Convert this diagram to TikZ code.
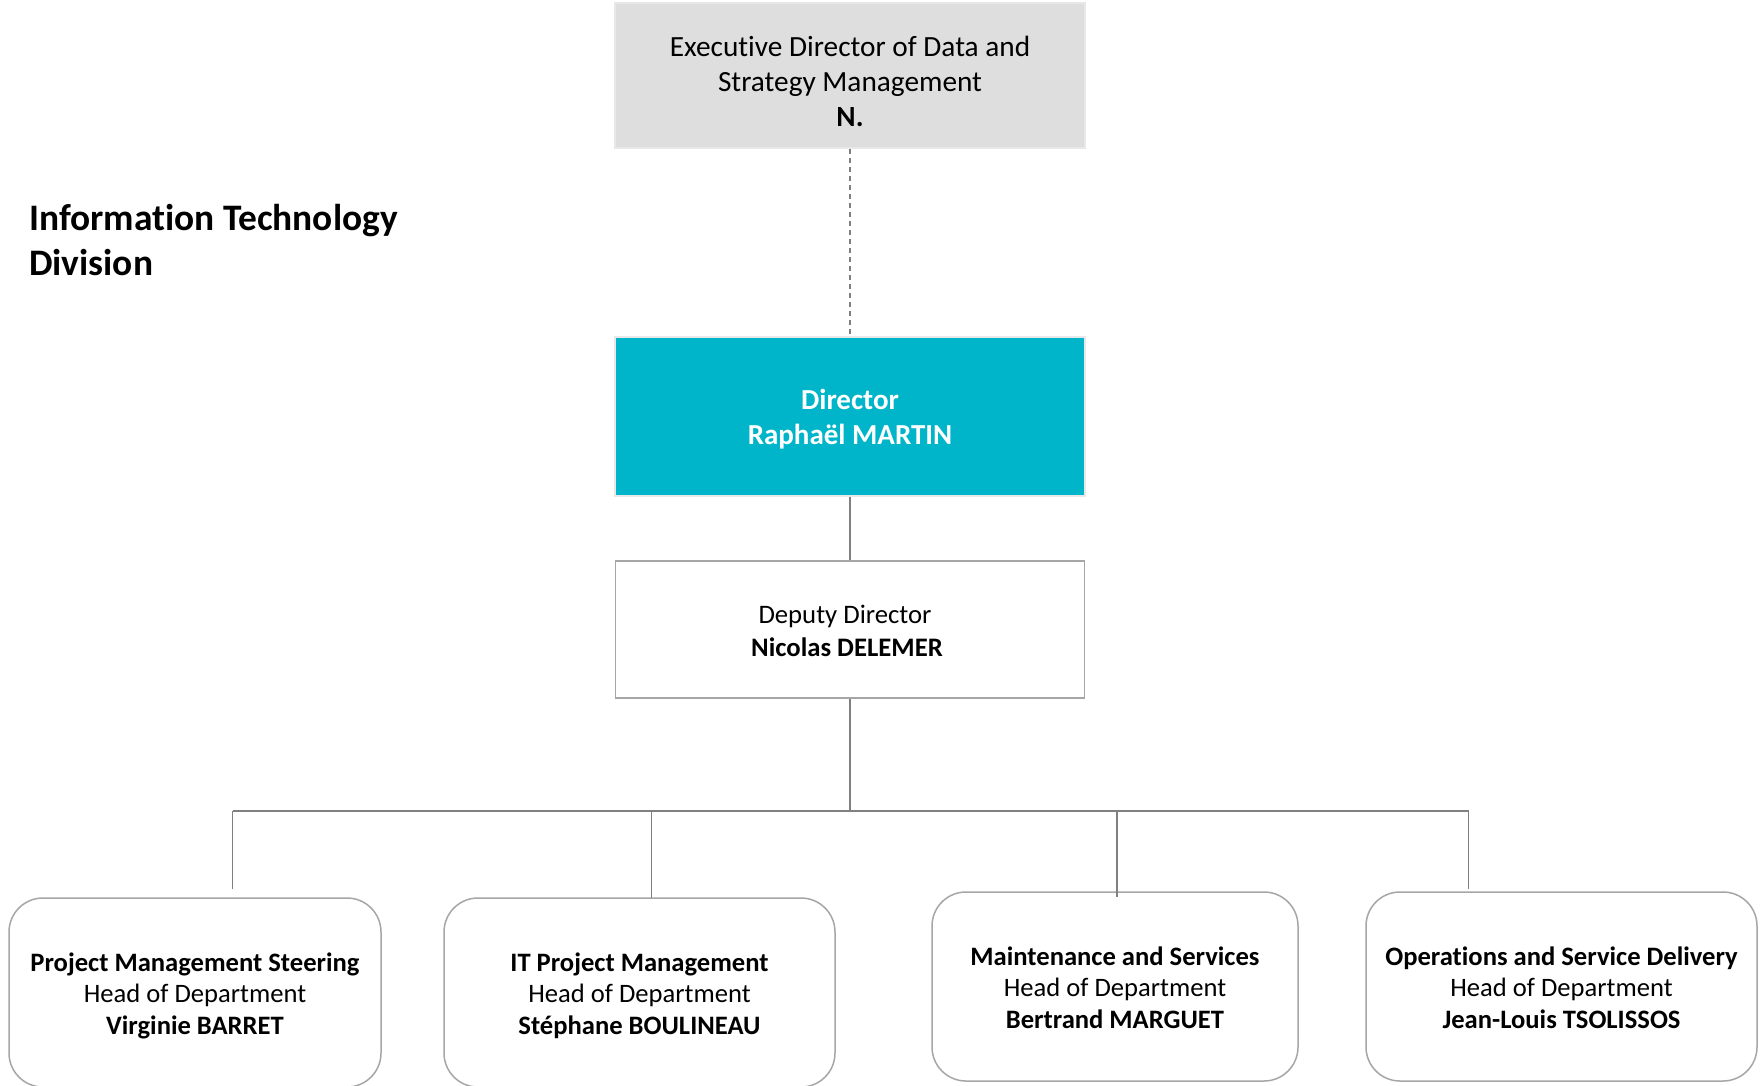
\documentclass[tikz,border=0pt]{standalone}
\usepackage{fontspec}
\setmainfont{Carlito}[Ligatures=CommonOff]
\definecolor{teal1}{RGB}{0,181,201}
\definecolor{execfill}{RGB}{222,222,222}
\definecolor{execedge}{RGB}{232,232,232}
\definecolor{boxedge}{RGB}{166,166,166}
\definecolor{linegray}{RGB}{128,128,128}
\tikzset{
  execbox/.style={draw=execedge, line width=2.5pt, fill=execfill, inner sep=0pt},
  dirbox/.style={draw=execedge, line width=2.5pt, fill=teal1, inner sep=0pt, text=white, align=center,
    text height=56pt, text depth=0pt,
    font=\fontsize{29pt}{35pt}\selectfont\bfseries},
  depbox/.style={draw=boxedge, line width=1.5pt, fill=white, inner sep=0pt, align=center,
    text height=53pt, text depth=0pt,
    font=\fontsize{26.7pt}{33pt}\selectfont},
  deptbox/.style={draw=boxedge, line width=1.5pt, fill=white, rounded corners=34pt, inner sep=0pt,
    align=center, minimum height=189pt, text height=83pt, text depth=0pt,
    font=\fontsize{26.6pt}{31.5pt}\selectfont},
  conn/.style={draw=linegray, line width=1.3pt},
  dashconn/.style={draw=linegray, line width=1.3pt, dash pattern=on 5pt off 4pt},
}
\begin{document}
\begin{tikzpicture}[x=1pt,y=-1pt]
\useasboundingbox[fill=white] (0,0) rectangle (1762,1085);
\clip (0,0) rectangle (1762,1085);

% title
\node[anchor=west, align=left, font=\fontsize{37.4pt}{45pt}\selectfont\bfseries, inner sep=0pt] (title) at (29,240)
  {Information Technology\\Division};

% executive
\node[execbox, minimum width=470pt, minimum height=145pt,
  label={[yshift=-5.5pt, align=center, font=\fontsize{29.3pt}{35pt}\selectfont]center:Executive Director of Data and\\Strategy Management\\\textbf{N.}}]
  (exec) at (850,75.5) {};

% director
\node[dirbox, minimum width=470pt, minimum height=159pt] (dir) at (850,416.5) {Director\\Raphaël MARTIN};

% deputy
\node[depbox, minimum width=469pt, minimum height=137pt] (dep) at (850,629.5)
  {Deputy Director\hspace*{10pt}\\\textbf{Nicolas DELEMER}\hspace*{6pt}};

% departments
\node[deptbox, minimum width=372pt] (d1) at (195,992.5)
  {\textbf{Project Management Steering}\\Head of Department\\\textbf{Virginie BARRET}};
\node[deptbox, minimum width=391pt] (d2) at (639.5,992.5)
  {\textbf{IT Project Management}\\Head of Department\\\textbf{Stéphane BOULINEAU}};
\node[deptbox, minimum width=366pt] (d3) at (1115,986.5)
  {\textbf{Maintenance and Services}\\Head of Department\\\textbf{Bertrand MARGUET}};
\node[deptbox, minimum width=391pt] (d4) at (1561.5,986.5)
  {\textbf{Operations and Service Delivery}\\Head of Department\\\textbf{Jean-Louis TSOLISSOS}};

% connectors
\draw[dashconn] (exec.south) -- (dir.north);
\draw[conn] (dir.south) -- (dep.north);

\coordinate (busL) at (232.6,811);
\coordinate (busR) at (1468.7,811);
\coordinate (b2) at (651.7,811);
\coordinate (b3) at (1117,811);
\coordinate (e1) at (232.6,889);
\coordinate (e2) at (651.7,898);
\coordinate (e3) at (1117,897);
\coordinate (e4) at (1468.7,889);

\draw[conn] (dep.south) -- (dep.south |- busL);
\draw[conn] (busL) -- (busR);
\draw[conn] (busL) -- (e1);
\draw[conn] (b2) -- (e2);
\draw[conn] (b3) -- (e3);
\draw[conn] (busR) -- (e4);
\end{tikzpicture}
\end{document}
